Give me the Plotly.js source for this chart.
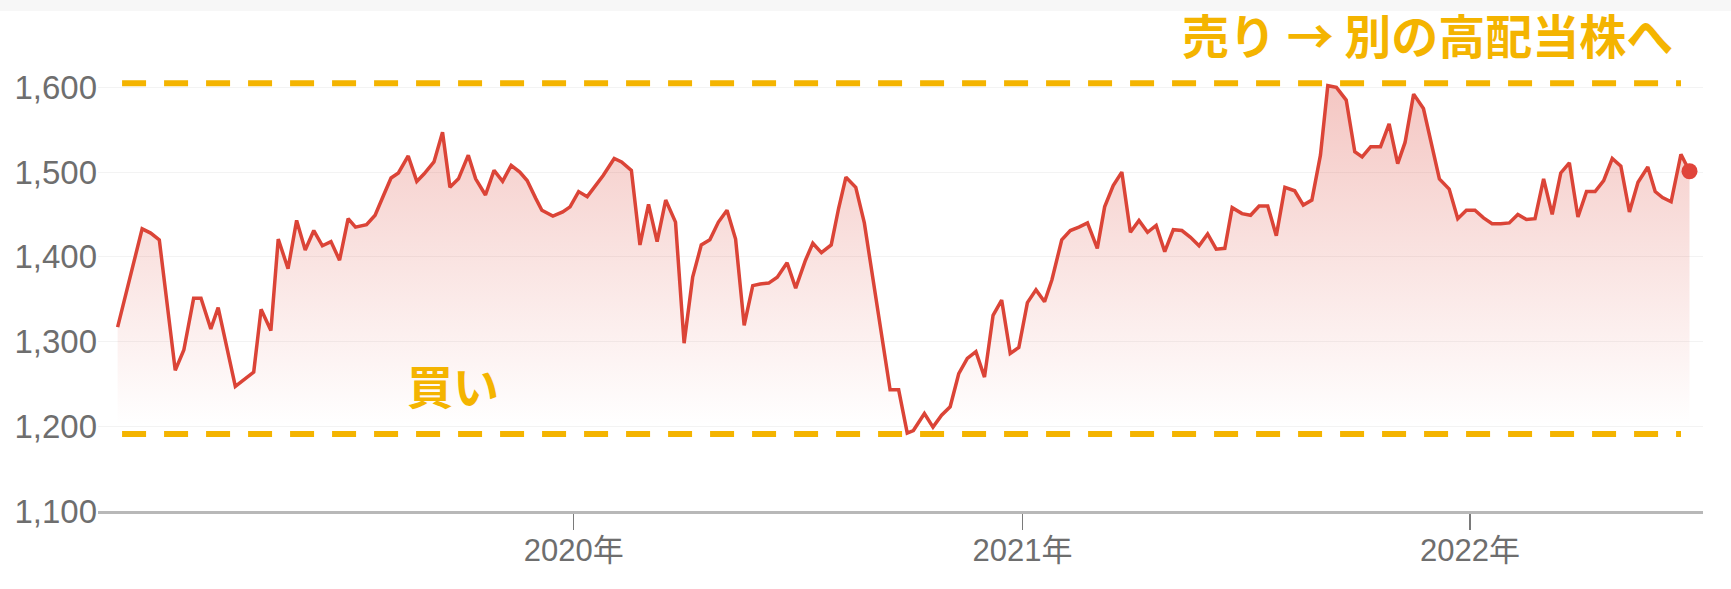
<!DOCTYPE html>
<html>
<head>
<meta charset="utf-8">
<script src="https://cdn.plot.ly/plotly-3.0.1.min.js"></script>
<style>
  html, body { margin: 0; padding: 0; background: #ffffff; }
  #chart { width: 1731px; height: 589px; }
</style>
</head>
<body>
<div id="chart"></div>
<script>
// ---- data ----
const dates = [
  '2018-12-25','2019-01-14','2019-01-21','2019-01-28','2019-02-10','2019-02-17','2019-02-25','2019-03-03','2019-03-11','2019-03-17',
  '2019-03-31','2019-04-08','2019-04-15','2019-04-21','2019-04-29','2019-05-05','2019-05-13','2019-05-20','2019-05-27','2019-06-03',
  '2019-06-10','2019-06-17','2019-06-24','2019-07-01','2019-07-07','2019-07-16','2019-07-23','2019-07-30','2019-08-05','2019-08-11',
  '2019-08-19','2019-08-26','2019-09-01','2019-09-09','2019-09-16','2019-09-22','2019-09-29','2019-10-07','2019-10-13','2019-10-21',
  '2019-10-28','2019-11-04','2019-11-11','2019-11-18','2019-11-24','2019-12-01','2019-12-06','2019-12-15','2019-12-23','2019-12-29',
  '2020-01-05','2020-01-12','2020-01-19','2020-01-25','2020-02-03','2020-02-09','2020-02-17','2020-02-24','2020-03-02','2020-03-09',
  '2020-03-16','2020-03-24','2020-03-31','2020-04-07','2020-04-14','2020-04-21','2020-04-28','2020-05-05','2020-05-12','2020-05-19',
  '2020-05-26','2020-06-01','2020-06-08','2020-06-15','2020-06-23','2020-06-30','2020-07-08','2020-07-14','2020-07-21','2020-07-29',
  '2020-08-04','2020-08-10','2020-08-18','2020-08-25','2020-09-15','2020-09-22','2020-09-29','2020-10-04','2020-10-13','2020-10-20',
  '2020-10-27','2020-11-03','2020-11-10','2020-11-17','2020-11-24','2020-12-01','2020-12-08','2020-12-15','2020-12-22','2020-12-29',
  '2021-01-05','2021-01-12','2021-01-19','2021-01-25','2021-02-02','2021-02-09','2021-02-16','2021-02-23','2021-03-03','2021-03-09',
  '2021-03-16','2021-03-23','2021-03-30','2021-04-06','2021-04-13','2021-04-20','2021-04-27','2021-05-04','2021-05-11','2021-05-18',
  '2021-05-25','2021-06-01','2021-06-08','2021-06-15','2021-06-21','2021-06-29','2021-07-06','2021-07-13','2021-07-20','2021-07-27',
  '2021-08-03','2021-08-11','2021-08-18','2021-08-25','2021-09-01','2021-09-07','2021-09-14','2021-09-22','2021-09-29','2021-10-05',
  '2021-10-12','2021-10-20','2021-10-27','2021-11-03','2021-11-09','2021-11-16','2021-11-24','2021-12-01','2021-12-07','2021-12-15',
  '2021-12-22','2021-12-29','2022-01-05','2022-01-12','2022-01-19','2022-01-26','2022-02-02','2022-02-09','2022-02-16','2022-02-23',
  '2022-03-02','2022-03-09','2022-03-16','2022-03-23','2022-03-30','2022-04-06','2022-04-13','2022-04-20','2022-04-27','2022-05-04',
  '2022-05-11','2022-05-18','2022-05-26','2022-06-01','2022-06-07','2022-06-14','2022-06-22','2022-06-29'
];
const prices = [
  1317,1433,1428,1420,1266,1290,1351,1351,1315,1340,
  1247,1256,1264,1338,1313,1421,1386,1443,1408,1431,
  1413,1418,1396,1445,1435,1438,1449,1473,1493,1499,
  1519,1489,1498,1512,1547,1482,1492,1520,1492,1473,
  1502,1489,1508,1500,1490,1469,1455,1448,1453,1459,
  1477,1471,1484,1496,1516,1512,1502,1414,1462,1418,
  1467,1441,1298,1376,1414,1420,1441,1455,1421,1319,
  1366,1368,1369,1376,1393,1363,1396,1416,1405,1414,
  1457,1494,1482,1440,1243,1243,1192,1195,1215,1199,
  1213,1223,1262,1280,1288,1258,1331,1349,1286,1293,
  1346,1361,1347,1373,1420,1431,1435,1440,1410,1459,
  1484,1500,1429,1443,1429,1437,1406,1432,1431,1423,
  1413,1427,1409,1410,1458,1451,1449,1460,1460,1425,
  1482,1478,1461,1467,1520,1602,1600,1585,1524,1518,
  1530,1530,1557,1510,1535,1592,1575,1532,1492,1480,
  1445,1455,1455,1446,1439,1439,1440,1450,1444,1445,
  1492,1450,1499,1511,1447,1477,1477,1490,1516,1507,
  1453,1488,1506,1477,1470,1465,1521,1501
];
const yTickValues = [1100, 1200, 1300, 1400, 1500, 1600];
const yTickLabels = ['1,100', '1,200', '1,300', '1,400', '1,500', '1,600'];
const xTickValues = ['2020-01-01', '2021-01-01', '2022-01-01'];
const xTickLabels = ['2020年', '2021年', '2022年'];
const sellLevel = 1605;
const buyLevel = 1191;
const sellText = '売り → 別の高配当株へ';
const buyText = '買い';

// ---- styles ----
const LINE_RED = '#DB4437';
const YELLOW = '#F4B400';
const TICK_GRAY = '#6e6e6e';
const FONT = 'Arial, "Liberation Sans", "Noto Sans CJK JP", sans-serif';

const priceTrace = {
  type: 'scatter',
  mode: 'lines',
  x: dates,
  y: prices,
  line: { color: LINE_RED, width: 3.5, shape: 'linear' },
  fill: 'tozeroy',
  fillgradient: {
    type: 'vertical',
    start: 1200,
    stop: 1600,
    colorscale: [[0, 'rgba(219,68,55,0)'], [1, 'rgba(219,68,55,0.30)']]
  },
  hoverinfo: 'skip',
  showlegend: false
};

const lastTrace = {
  type: 'scatter',
  mode: 'markers',
  x: [dates[dates.length - 1]],
  y: [prices[prices.length - 1]],
  marker: { color: '#E0443A', size: 16 },
  hoverinfo: 'skip',
  showlegend: false
};

const layout = {
  width: 1731,
  height: 589,
  margin: { l: 98, r: 28, t: 45, b: 78, pad: 0 },
  paper_bgcolor: '#ffffff',
  plot_bgcolor: 'rgba(0,0,0,0)',
  font: { family: FONT, color: TICK_GRAY },
  showlegend: false,
  xaxis: {
    type: 'date',
    range: ['2018-12-09', '2022-07-10'],
    tickmode: 'array',
    tickvals: xTickValues,
    ticktext: xTickLabels,
    ticks: 'outside',
    ticklen: 16,
    tickwidth: 1.5,
    tickcolor: '#7a7a7a',
    ticklabelstandoff: -6,
    showline: true,
    linecolor: '#b8b8b8',
    linewidth: 3,
    showgrid: false,
    zeroline: false,
    tickfont: { family: FONT, size: 31, color: TICK_GRAY },
    fixedrange: true
  },
  yaxis: {
    range: [1100, 1650],
    tickmode: 'array',
    tickvals: yTickValues,
    ticktext: yTickLabels,
    ticks: '',
    showline: false,
    showgrid: true,
    gridcolor: '#f3f3f3',
    gridwidth: 1,
    zeroline: false,
    tickfont: { family: FONT, size: 33, color: TICK_GRAY },
    fixedrange: true
  },
  shapes: [
    {
      type: 'rect', xref: 'paper', yref: 'paper',
      x0: -0.07, x1: 1.03, y0: 1.0727, y1: 1.2,
      fillcolor: '#f7f7f7', line: { width: 0 }, layer: 'below'
    },
    {
      type: 'line', xref: 'paper', yref: 'y',
      x0: 0.015, x1: 0.9863, y0: sellLevel, y1: sellLevel,
      line: { color: YELLOW, width: 6, dash: '24px,18px' }, layer: 'above'
    },
    {
      type: 'line', xref: 'paper', yref: 'y',
      x0: 0.015, x1: 0.9863, y0: buyLevel, y1: buyLevel,
      line: { color: YELLOW, width: 6, dash: '24px,18px' }, layer: 'above'
    }
  ],
  annotations: [
    {
      text: '<b>' + sellText + '</b>',
      xref: 'paper', yref: 'paper',
      x: 0.9828, y: 1.0240, xanchor: 'right', yanchor: 'middle',
      showarrow: false,
      font: { family: '"Noto Sans CJK JP", sans-serif', size: 47, color: YELLOW, weight: 700 }
    },
    {
      text: '<b>' + buyText + '</b>',
      xref: 'paper', yref: 'paper',
      x: 0.2214, y: 0.2723, xanchor: 'center', yanchor: 'middle',
      showarrow: false,
      font: { family: '"Noto Sans CJK JP", sans-serif', size: 46, color: YELLOW, weight: 700 }
    }
  ]
};

Plotly.newPlot('chart', [priceTrace, lastTrace], layout, { displayModeBar: false, staticPlot: true });
</script>
</body>
</html>
